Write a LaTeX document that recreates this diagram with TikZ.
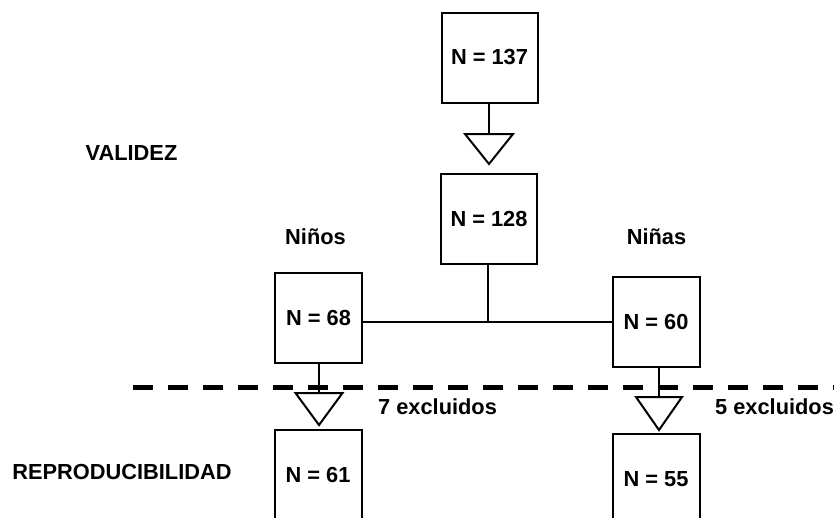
\documentclass[tikz,border=0pt]{standalone}
\usepackage{fontspec}
\setmainfont{Liberation Sans}
\begin{document}
\begin{tikzpicture}[x=1pt,y=-1pt,
  every node/.style={font=\fontsize{21.8}{26}\selectfont\bfseries, inner sep=0pt},
  nbox/.style={draw, line width=2pt, minimum width=87pt, minimum height=90pt},
  wbox/.style={nbox, minimum width=96pt},
  link/.style={line width=2pt},
  funnel/.style={line width=2pt, line join=miter},
  divider/.style={line width=5pt, dash pattern=on 20pt off 15pt}
]
\useasboundingbox (0,0) rectangle (834,517);
\clip (0,0) rectangle (834,517);

% section labels
\node (val) at (131.5,153) {VALIDEZ};
\node (rep) at (122,472) {REPRODUCIBILIDAD};
\node (ninos) at (315.5,237) {Niños};
\node (ninas) at (656.5,237) {Niñas};

% boxes
\node[wbox] (b137) at (489.5,57.5) {N = 137};
\node[wbox] (b128) at (489,219) {N = 128};
\node[nbox] (b68) at (318.5,318) {N = 68};
\node[nbox] (b60) at (656,322) {N = 60};
\node[nbox] (b61) at (318,475) {N = 61};
\node[nbox] (b55) at (656,479) {N = 55};

% funnel markers (downward triangles)
\coordinate (t1) at (489,134);
\coordinate (t2) at (319,393);
\coordinate (t3) at (659,397);
\draw[funnel] (t1) ++(-24,0) -- ++(48,0) -- ++(-24,30) -- cycle;
\draw[funnel] (t2) ++(-23.5,0) -- ++(47,0) -- ++(-23.5,32) -- cycle;
\draw[funnel] (t3) ++(-23,0) -- ++(46,0) -- ++(-23,33) -- cycle;

% connectors
\draw[link] (b137.south -| t1) -- (t1);
\coordinate (j) at (488,322);
\draw[link] (b128.south -| j) -- (j);
\draw[link] (b68.east |- j) -- (b60.west |- j);
\draw[link] (b68.south -| t2) -- (t2);
\draw[link] (b60.south -| t3) -- (t3);

% dashed divider
\coordinate (dA) at (133,387);
\coordinate (dB) at (840,387);
\draw[divider] (dA) -- (dB);

% exclusion labels
\node[anchor=west] (ex7) at (378,407) {7 excluidos};
\node[anchor=west] (ex5) at (715,407) {5 excluidos};
\end{tikzpicture}
\end{document}
